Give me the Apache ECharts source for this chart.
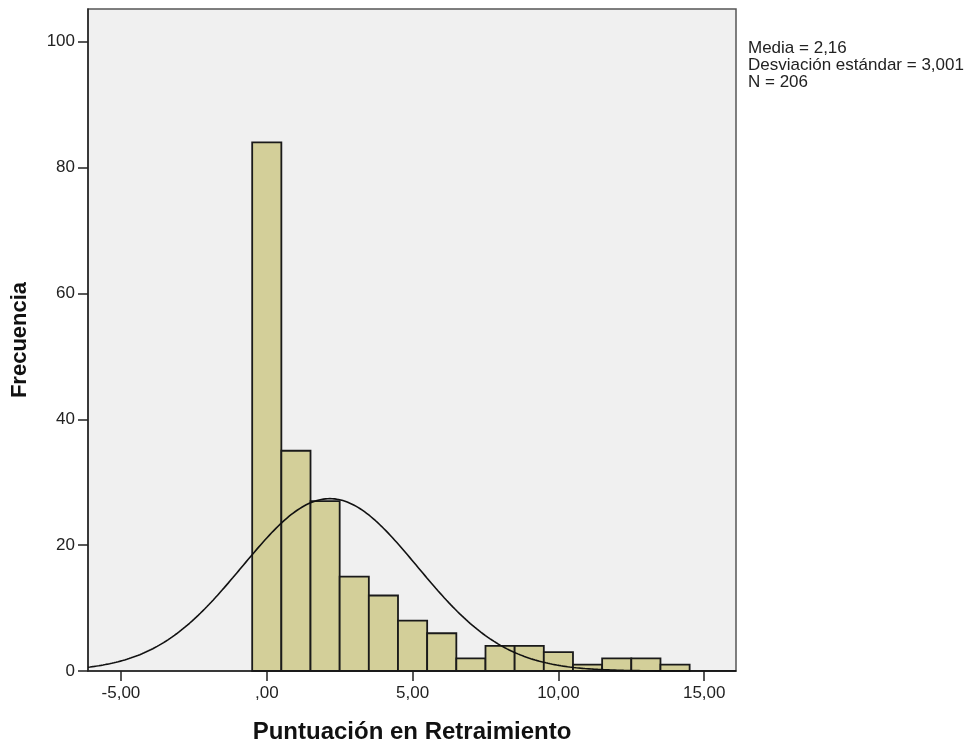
<!DOCTYPE html>
<html><head><meta charset="utf-8">
<script src="https://cdn.jsdelivr.net/npm/echarts@6/dist/echarts.min.js"></script>
<style>html,body{margin:0;padding:0;background:#fff}#c{width:969px;height:747px}</style>
</head><body><div id="c"></div>
<script>
var binCenters = [0,1,2,3,4,5,6,7,8,9,10,11,12,13,14];
var frequencies = [84,35,27,15,12,8,6,2,4,4,3,1,2,2,1];
var xTicks = [-5,0,5,10,15];
var yTicks = [0,20,40,60,80,100];
var statMean = 2.16, statSD = 3.001, statN = 206, binWidth = 1;
var xMin = -6.13, xMax = 16.09, yMax = 105.2;

function fmtX(v){ var s = Math.abs(v).toFixed(2).replace('.', ','); if (s.indexOf('0,')===0) s = s.substring(1); return (v<0?'-':'') + s; }

var curve = [];
for (var i = 0; i <= 300; i++) {
  var x = xMin + (xMax - xMin) * i / 300;
  var y = statN * binWidth / (statSD * Math.sqrt(2*Math.PI)) * Math.exp(-0.5*Math.pow((x-statMean)/statSD,2));
  curve.push([x,y]);
}
var barData = binCenters.map(function(c,i){ return [c - binWidth/2, c + binWidth/2, frequencies[i]]; });

var chart = echarts.init(document.getElementById('c'));
var font = 'Liberation Sans, Arial, sans-serif';
chart.setOption({
  animation:false,
  grid:{left:88,right:233,top:9,bottom:76,outerBoundsMode:'none',containLabel:false,show:true,backgroundColor:'#f0f0f0',borderColor:'#555',borderWidth:1.5},
  xAxis:{type:'value',min:xMin,max:xMax,
    name:'Puntuación en Retraimiento',nameLocation:'middle',nameGap:49,
    nameTextStyle:{fontFamily:font,fontSize:24,fontWeight:'bold',color:'#111'},
    axisLine:{show:true,onZero:false,lineStyle:{color:'#222',width:1.5}},
    axisTick:{show:true,customValues:xTicks,length:10,lineStyle:{color:'#222',width:1.5}},
    axisLabel:{customValues:xTicks,formatter:function(v){return fmtX(v);},fontFamily:font,fontSize:17,color:'#222',margin:14},
    splitLine:{show:false}},
  yAxis:{type:'value',min:0,max:yMax,
    name:'Frecuencia',nameLocation:'middle',nameGap:57,
    nameTextStyle:{fontFamily:font,fontSize:22,fontWeight:'bold',color:'#111'},
    axisLine:{show:true,onZero:false,lineStyle:{color:'#222',width:1.5}},
    axisTick:{show:true,customValues:yTicks,length:10,lineStyle:{color:'#222',width:1.5}},
    axisLabel:{customValues:yTicks,fontFamily:font,fontSize:17,color:'#222',margin:13},
    splitLine:{show:false}},
  graphic:[{type:'text',left:748,top:40,style:{text:'Media = '+String(statMean).replace('.',',')+'\nDesviación estándar = '+String(statSD).replace('.',',')+'\nN = '+statN,
    font:'17px '+font,fill:'#222',lineHeight:17}}],
  series:[
    {type:'custom',data:barData,encode:{x:[0,1],y:2},
     renderItem:function(params,api){
       var p0 = api.coord([api.value(0),0]);
       var p1 = api.coord([api.value(1),api.value(2)]);
       return {type:'rect',shape:{x:p0[0],y:p1[1],width:p1[0]-p0[0],height:p0[1]-p1[1]},
         style:{fill:'#d3cf99',stroke:'#1a1a1a',lineWidth:1.8}};
     }},
    {type:'line',data:curve,showSymbol:false,smooth:false,lineStyle:{color:'#111',width:1.6},z:5}
  ]
});
</script></body></html>
